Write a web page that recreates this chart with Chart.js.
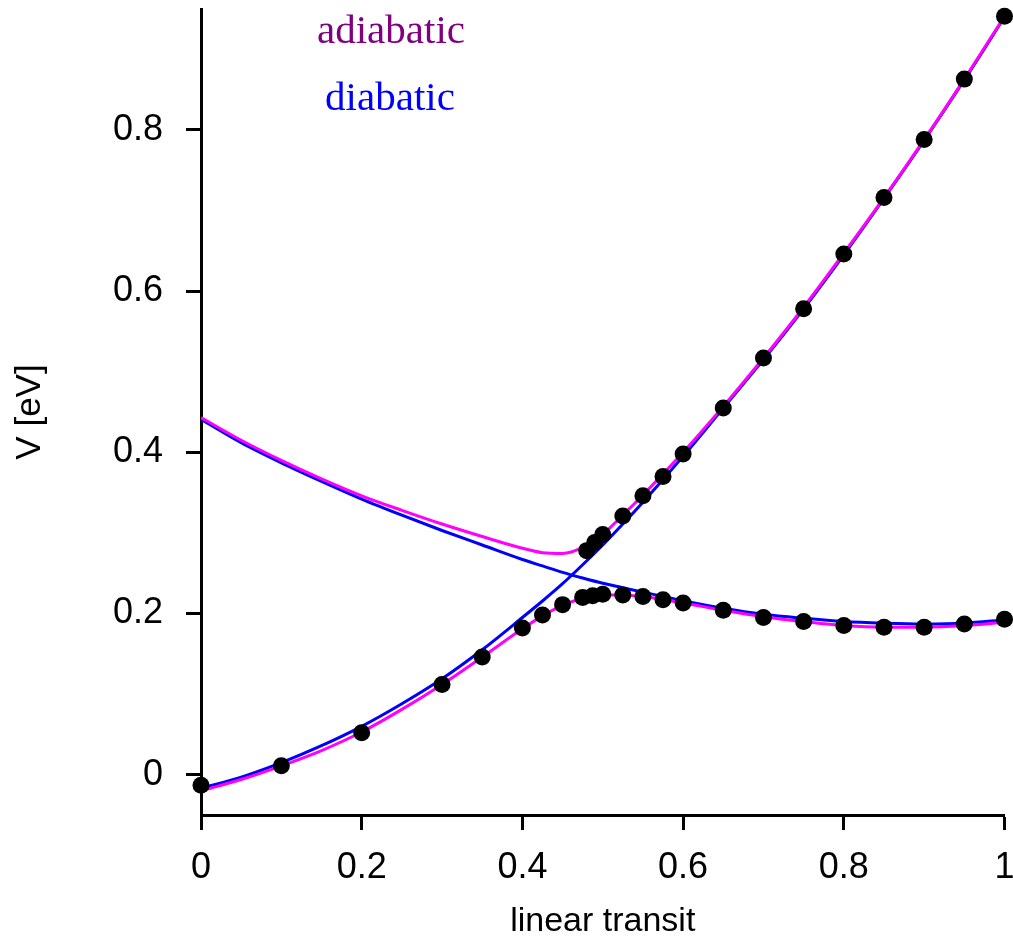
<!DOCTYPE html>
<html>
<head>
<meta charset="utf-8">
<script src="https://cdn.jsdelivr.net/npm/chart.js@4.4.0/dist/chart.umd.min.js"></script>
<style>
    html, body { margin: 0; padding: 0; background: #ffffff; }
    #wrap { width: 1013px; height: 942px; }
</style>
</head>
<body>
<div id="wrap"><canvas id="chart" width="1013" height="942"></canvas></div>
<script>
// ── Data ─────────────────────────────────────────────────
const curveX      = [0, 0.05, 0.1, 0.15, 0.2, 0.25, 0.3, 0.35, 0.4, 0.425, 0.45, 0.475, 0.5, 0.525, 0.55, 0.6, 0.65, 0.7, 0.75, 0.8, 0.85, 0.9, 0.95, 1];
const adiaLower   = [-0.02, -0.006, 0.011, 0.030, 0.053, 0.081, 0.112, 0.146, 0.181, 0.197, 0.210, 0.219, 0.223, 0.223, 0.221, 0.213, 0.204, 0.196, 0.190, 0.185, 0.183, 0.183, 0.185, 0.189];
const adiaUpper   = [0.443, 0.415, 0.390, 0.367, 0.346, 0.328, 0.311, 0.2955, 0.281, 0.2755, 0.2745, 0.282, 0.2985, 0.322, 0.347, 0.400, 0.457, 0.517, 0.580, 0.647, 0.716, 0.788, 0.863, 0.941];
const diaRising   = [-0.017, -0.003, 0.015, 0.036, 0.060, 0.088, 0.119, 0.155, 0.195, 0.2155, 0.237, 0.2605, 0.285, 0.311, 0.338, 0.395, 0.455, 0.515, 0.578, 0.645, 0.715, 0.787, 0.862, 0.940];
const diaFalling  = [0.441, 0.412, 0.387, 0.364, 0.342, 0.322, 0.303, 0.285, 0.267, 0.259, 0.251, 0.244, 0.2375, 0.232, 0.2265, 0.216, 0.2065, 0.199, 0.194, 0.190, 0.188, 0.187, 0.188, 0.192];

const dotsLowX    = [0, 0.1, 0.2, 0.3, 0.35, 0.4, 0.425, 0.45, 0.475, 0.4875, 0.5, 0.525, 0.55, 0.575, 0.6, 0.65, 0.7, 0.75, 0.8, 0.85, 0.9, 0.95, 1];
const dotsLowY    = [-0.013, 0.011, 0.052, 0.112, 0.146, 0.182, 0.198, 0.211, 0.220, 0.222, 0.224, 0.223, 0.221, 0.217, 0.213, 0.204, 0.195, 0.190, 0.185, 0.183, 0.183, 0.187, 0.193];
const dotsHighX   = [0.48, 0.49, 0.5, 0.525, 0.55, 0.575, 0.6, 0.65, 0.7, 0.75, 0.8, 0.85, 0.9, 0.95, 1];
const dotsHighY   = [0.278, 0.288, 0.298, 0.321, 0.346, 0.370, 0.398, 0.455, 0.517, 0.578, 0.646, 0.716, 0.788, 0.863, 0.941];

const xTicks = [0, 0.2, 0.4, 0.6, 0.8, 1];
const yTicks = [0, 0.2, 0.4, 0.6, 0.8];

const MAGENTA = '#ff00ff';
const BLUE = '#0000ff';
const PURPLE = '#800080';

const pts = (xs, ys) => xs.map((x, i) => ({ x, y: ys[i] }));
const fmt = v => String(+Number(v).toFixed(1));

function curve(ys, color) {
    return {
        type: 'line',
        data: pts(curveX, ys),
        borderColor: color,
        borderWidth: 3,
        pointRadius: 0,
        cubicInterpolationMode: 'monotone',
        fill: false,
    };
}

function dots(xs, ys) {
    return {
        type: 'scatter',
        data: pts(xs, ys),
        backgroundColor: '#000000',
        borderWidth: 0,
        pointRadius: 8.5,
        clip: false,
    };
}

// scale box sizes fixed so the plot area sits where the reference has it
function fixBox(size) {
    return s => {
        if (s.isHorizontal()) s.height = size; else s.width = size;
        s.paddingTop = 0;
        s.paddingBottom = 0;
        s.paddingLeft = 0;
        s.paddingRight = 0;
    };
}

// ── Legend text (top) + white background ──────────────────
const labelsPlugin = {
    id: 'labels',
    beforeDraw(chart) {
        const ctx = chart.ctx;
        ctx.save();
        ctx.fillStyle = '#ffffff';
        ctx.fillRect(0, 0, chart.width, chart.height);
        ctx.restore();
    },
    afterDraw(chart) {
        const ctx = chart.ctx;
        ctx.save();
        ctx.font = '41px "Liberation Serif"';
        ctx.textAlign = 'center';
        ctx.textBaseline = 'alphabetic';
        ctx.fillStyle = PURPLE;
        ctx.fillText('adiabatic', 391, 43);
        ctx.fillStyle = BLUE;
        ctx.fillText('diabatic', 390, 110);
        ctx.restore();
    },
};

Chart.defaults.font.family = '"Liberation Sans", Arial, sans-serif';
Chart.defaults.color = '#000000';

new Chart(document.getElementById('chart'), {
    data: {
        datasets: [
            curve(diaRising, BLUE),
            curve(diaFalling, BLUE),
            curve(adiaLower, MAGENTA),
            curve(adiaUpper, MAGENTA),
            dots(dotsLowX, dotsLowY),
            dots(dotsHighX, dotsHighY),
        ].map((d, i) => ({ ...d, order: 10 - i })),
    },
    options: {
        responsive: false,
        animation: false,
        layout: { padding: { top: 9, right: 7, left: 0, bottom: 0 } },
        plugins: {
            legend: { display: false },
            tooltip: { enabled: false },
        },
        scales: {
            x: {
                type: 'linear',
                min: 0,
                max: 1,
                afterFit: fixBox(127),
                afterBuildTicks: s => { s.ticks = xTicks.map(v => ({ value: v })); },
                ticks: { callback: fmt, font: { size: 36 }, padding: 16, maxRotation: 0, autoSkip: false },
                grid: { drawOnChartArea: false, drawTicks: true, tickLength: 15, tickWidth: 3, tickColor: '#000' },
                border: { display: true, color: '#000', width: 3 },
                title: { display: true, text: 'linear transit', font: { size: 34 }, padding: { top: 0, bottom: 0 } },
            },
            y: {
                type: 'linear',
                min: -0.05,
                max: 0.95,
                afterFit: fixBox(201),
                afterBuildTicks: s => { s.ticks = yTicks.map(v => ({ value: v })); },
                ticks: { callback: fmt, font: { size: 36 }, padding: 23, autoSkip: false },
                grid: { drawOnChartArea: false, drawTicks: true, tickLength: 15, tickWidth: 3, tickColor: '#000' },
                border: { display: true, color: '#000', width: 3 },
                title: { display: true, text: 'V [eV]', font: { size: 35 }, padding: { top: 9, bottom: 0 } },
            },
        },
    },
    plugins: [labelsPlugin],
});
</script>
</body>
</html>
